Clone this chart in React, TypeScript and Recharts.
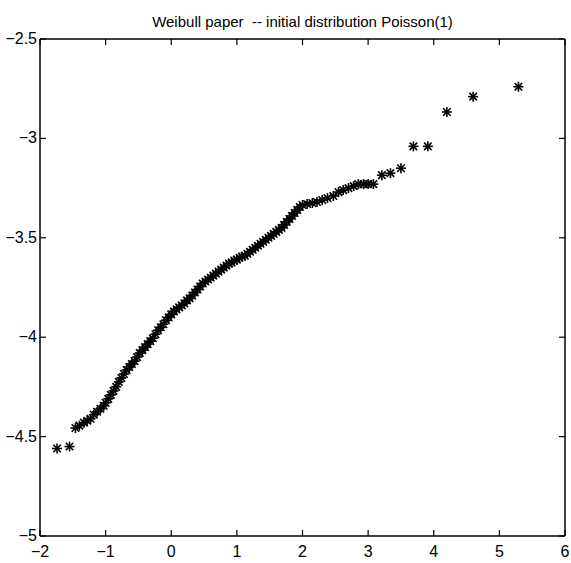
import React from "react";
import { ScatterChart, Scatter, XAxis, YAxis } from "recharts";

const TITLE = "Weibull paper  -- initial distribution Poisson(1)";
const xTicks = [-2, -1, 0, 1, 2, 3, 4, 5, 6];
const yTicks = [-5, -4.5, -4, -3.5, -3, -2.5];

const xValues = [
  -1.74, -1.55, -1.46, -1.4, -1.33, -1.28, -1.23, -1.18, -1.13, -1.08, -1.03, -1.0,
  -0.96, -0.92, -0.88, -0.84, -0.8, -0.76, -0.72, -0.68, -0.64, -0.6, -0.56, -0.52,
  -0.48, -0.44, -0.4, -0.36, -0.32, -0.28, -0.24, -0.2, -0.16, -0.12, -0.08, -0.04,
  0.0, 0.04, 0.08, 0.12, 0.16, 0.2, 0.24, 0.28, 0.32, 0.36, 0.4, 0.44, 0.48, 0.52,
  0.56, 0.6, 0.64, 0.68, 0.72, 0.76, 0.8, 0.84, 0.88, 0.92, 0.96, 1.0, 1.04, 1.08,
  1.12, 1.16, 1.2, 1.24, 1.28, 1.32, 1.36, 1.4, 1.44, 1.48, 1.52, 1.56, 1.6, 1.64,
  1.68, 1.72, 1.76, 1.8, 1.84, 1.88, 1.92, 1.96, 2.0, 2.07, 2.15, 2.22, 2.3, 2.38,
  2.47, 2.55, 2.62, 2.7, 2.78, 2.85, 2.93, 3.0, 3.08, 3.21, 3.34, 3.5, 3.69, 3.91,
  4.2, 4.6, 5.29,
];
const yValues = [
  -4.56, -4.55, -4.457, -4.445, -4.43, -4.42, -4.41, -4.39, -4.375, -4.36, -4.345, -4.33,
  -4.31, -4.29, -4.27, -4.25, -4.225, -4.205, -4.185, -4.165, -4.15, -4.135, -4.12, -4.1,
  -4.08, -4.065, -4.05, -4.035, -4.02, -4.005, -3.985, -3.965, -3.95, -3.935, -3.915, -3.9,
  -3.885, -3.87, -3.86, -3.85, -3.84, -3.83, -3.815, -3.805, -3.79, -3.775, -3.76, -3.745,
  -3.73, -3.72, -3.71, -3.7, -3.69, -3.68, -3.67, -3.66, -3.65, -3.64, -3.63, -3.625,
  -3.615, -3.61, -3.6, -3.595, -3.59, -3.58, -3.57, -3.56, -3.55, -3.54, -3.53, -3.52,
  -3.51, -3.5, -3.49, -3.48, -3.47, -3.46, -3.45, -3.435, -3.42, -3.405, -3.39, -3.375,
  -3.36, -3.345, -3.335, -3.33, -3.325, -3.32, -3.31, -3.3, -3.29, -3.27, -3.26, -3.25,
  -3.24, -3.23, -3.23, -3.23, -3.23, -3.185, -3.175, -3.15, -3.04, -3.04, -2.867, -2.79,
  -2.74,
];

const data = xValues.map((x, i) => ({ x, y: yValues[i] }));

const FONT = "'Liberation Sans Narrow', 'Liberation Sans', Arial, sans-serif";

const Star = (props: any) => {
  const { cx, cy } = props;
  if (cx == null || cy == null) return null;
  const r = 5;
  const d = r * 0.75;
  return (
    <g stroke="#000" strokeWidth={1.6}>
      <line x1={cx - r} y1={cy} x2={cx + r} y2={cy} />
      <line x1={cx} y1={cy - r} x2={cx} y2={cy + r} />
      <line x1={cx - d} y1={cy - d} x2={cx + d} y2={cy + d} />
      <line x1={cx - d} y1={cy + d} x2={cx + d} y2={cy - d} />
    </g>
  );
};

const BottomTick = (props: any) => {
  const { x, y, payload } = props;
  return (
    <g>
      <line x1={x} y1={y} x2={x} y2={y - 6} stroke="#000" strokeWidth={1.2} />
      <text x={x} y={y + 21} textAnchor="middle" fontFamily={FONT} fontSize={16} fill="#000">
        {String(payload.value).replace("-", "\u2212")}
      </text>
    </g>
  );
};

const TopTick = (props: any) => {
  const { x, y } = props;
  return <line x1={x} y1={y} x2={x} y2={y + 6} stroke="#000" strokeWidth={1.2} />;
};

const LeftTick = (props: any) => {
  const { x, y, payload } = props;
  return (
    <g>
      <line x1={x} y1={y} x2={x + 6} y2={y} stroke="#000" strokeWidth={1.2} />
      <text x={x - 3} y={y + 5} textAnchor="end" fontFamily={FONT} fontSize={16} fill="#000">
        {String(payload.value).replace("-", "\u2212")}
      </text>
    </g>
  );
};

const RightTick = (props: any) => {
  const { x, y } = props;
  return <line x1={x} y1={y} x2={x - 6} y2={y} stroke="#000" strokeWidth={1.2} />;
};

export default function App() {
  return (
    <div style={{ position: "absolute", left: 0, top: 0, width: 571, height: 563, background: "#fff" }}>
      <div
        style={{
          position: "absolute",
          left: 40,
          width: 525,
          top: 13,
          textAlign: "center",
          fontFamily: FONT,
          fontSize: 15,
          lineHeight: "18px",
          color: "#000",
          whiteSpace: "pre",
        }}
      >
        {TITLE}
      </div>
      <ScatterChart width={571} height={563} margin={{ top: 0, right: 0, bottom: 0, left: 0 }}>
        <XAxis
          xAxisId="bottom"
          dataKey="x"
          type="number"
          domain={[-2, 6]}
          ticks={xTicks}
          orientation="bottom"
          height={27}
          tickSize={0}
          tickMargin={0}
          tickLine={false}
          axisLine={{ stroke: "#000", strokeWidth: 1.5 }}
          tick={<BottomTick />}
          allowDataOverflow
          interval={0}
        />
        <XAxis
          xAxisId="top"
          dataKey="x"
          type="number"
          domain={[-2, 6]}
          ticks={xTicks}
          orientation="top"
          height={39}
          tickSize={0}
          tickMargin={0}
          tickLine={false}
          axisLine={{ stroke: "#000", strokeWidth: 1.5 }}
          tick={<TopTick />}
          allowDataOverflow
          interval={0}
        />
        <YAxis
          yAxisId="left"
          dataKey="y"
          type="number"
          domain={[-5, -2.5]}
          ticks={yTicks}
          orientation="left"
          width={40}
          tickSize={0}
          tickMargin={0}
          tickLine={false}
          axisLine={{ stroke: "#000", strokeWidth: 1.5 }}
          tick={<LeftTick />}
          allowDataOverflow
          interval={0}
        />
        <YAxis
          yAxisId="right"
          dataKey="y"
          type="number"
          domain={[-5, -2.5]}
          ticks={yTicks}
          orientation="right"
          width={6}
          tickSize={0}
          tickMargin={0}
          tickLine={false}
          axisLine={{ stroke: "#000", strokeWidth: 1.5 }}
          tick={<RightTick />}
          allowDataOverflow
          interval={0}
        />
        <Scatter
          data={data}
          xAxisId="bottom"
          yAxisId="left"
          shape={<Star />}
          isAnimationActive={false}
        />
      </ScatterChart>
    </div>
  );
}
